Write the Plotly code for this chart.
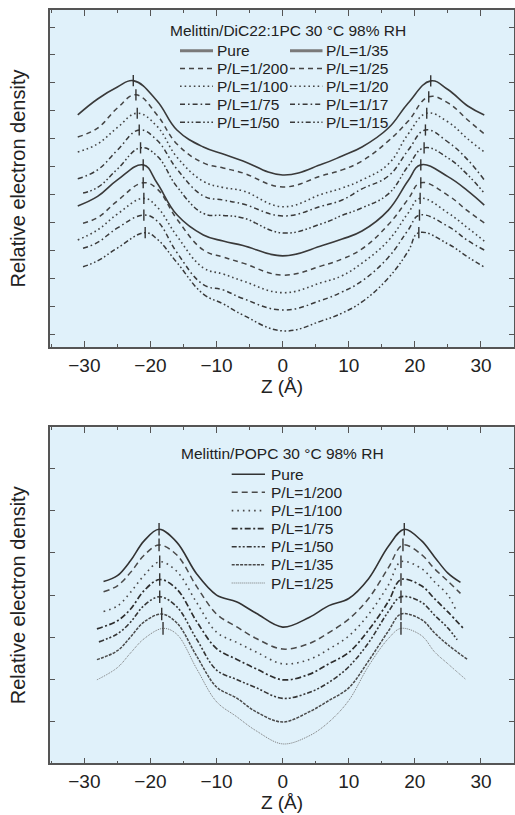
import numpy as np
import plotly.graph_objects as go

W, H = 515, 815
FONT = "Liberation Sans, Arial, Helvetica, sans-serif"
BG = "#e0f1fa"

# ---------------- Top panel: Melittin/DiC22:1PC ----------------
TOP_TITLE = "Melittin/DiC22:1PC 30 °C 98% RH"
TOP_LABELS = ["Pure", "P/L=1/200", "P/L=1/100", "P/L=1/75", "P/L=1/50",
              "P/L=1/35", "P/L=1/25", "P/L=1/20", "P/L=1/17", "P/L=1/15"]
TOP_Z = [
    [-31, -28, -25, -22.6, -19, -16, -12, -9, -6, 0, 6, 9, 12, 16, 19, 22.4, 25, 28, 30.5],
    [-31, -28, -25, -22.2, -19, -16, -12, -9, -6, 0, 6, 9, 12, 16, 19, 22.1, 25, 28, 30.5],
    [-31, -28, -25, -22.0, -19, -16, -12, -9, -6, 0, 6, 9, 12, 16, 19, 21.8, 25, 28, 30.5],
    [-31, -28, -25, -21.7, -19, -16, -12, -9, -6, 0, 6, 9, 12, 16, 19, 21.6, 25, 28, 30.5],
    [-30.2, -28, -25, -21.5, -19, -16, -12, -9, -6, 0, 6, 9, 12, 16, 19, 21.4, 25, 28, 30.5],
    [-31, -28, -25, -21.1, -19, -16, -12, -9, -6, 0, 6, 9, 12, 16, 19, 20.9, 25, 28, 30.5],
    [-30.2, -28, -25, -21.1, -19, -16, -12, -9, -6, 0, 6, 9, 12, 16, 19, 20.9, 25, 28, 30.5],
    [-31, -28, -25, -21.0, -19, -16, -12, -9, -6, 0, 6, 9, 12, 16, 19, 20.8, 25, 28, 30.5],
    [-30.2, -28, -25, -21.0, -19, -16, -12, -9, -6, 0, 6, 9, 12, 16, 19, 20.7, 25, 28, 30.5],
    [-30.2, -28, -25, -20.8, -19, -16, -12, -9, -6, 0, 6, 9, 12, 16, 19, 20.6, 25, 28, 30.5],
]
TOP_RHO = [
    [7.85, 8.42, 8.85, 9.08, 8.35, 7.31, 6.70, 6.45, 6.20, 5.70, 6.09, 6.38, 6.70, 7.38, 8.28, 9.07, 8.76, 8.17, 7.85],
    [7.06, 7.38, 8.10, 8.57, 7.85, 6.81, 6.13, 5.95, 5.77, 5.27, 5.68, 5.88, 6.20, 6.92, 7.63, 8.50, 8.28, 7.67, 7.17],
    [6.52, 6.81, 7.40, 7.91, 7.44, 6.34, 5.47, 5.25, 5.13, 4.56, 5.02, 5.23, 5.52, 6.09, 7.17, 7.91, 7.60, 6.99, 6.52],
    [5.56, 5.88, 6.59, 7.31, 6.94, 5.91, 4.95, 4.80, 4.66, 4.23, 4.59, 4.80, 5.20, 5.66, 6.59, 7.31, 6.88, 6.24, 5.52],
    [5.05, 5.25, 5.91, 6.67, 6.38, 5.28, 4.32, 4.25, 4.16, 3.62, 3.96, 4.25, 4.52, 5.02, 6.02, 6.67, 6.31, 5.70, 5.05],
    [4.59, 4.93, 5.52, 6.06, 5.41, 4.27, 3.55, 3.33, 3.17, 2.80, 3.17, 3.40, 3.69, 4.44, 5.50, 6.06, 5.64, 5.13, 4.62],
    [3.97, 4.17, 4.77, 5.42, 5.20, 4.12, 3.01, 2.76, 2.54, 2.11, 2.45, 2.69, 3.05, 3.92, 4.84, 5.42, 4.97, 4.41, 3.98],
    [3.37, 3.73, 4.30, 4.86, 4.55, 3.51, 2.37, 2.15, 1.90, 1.48, 1.85, 2.09, 2.54, 3.35, 4.34, 4.86, 4.34, 3.80, 3.33],
    [3.07, 3.28, 3.80, 4.26, 4.05, 2.92, 1.77, 1.58, 1.27, 0.86, 1.22, 1.51, 1.90, 2.75, 3.73, 4.26, 3.86, 3.35, 3.01],
    [2.41, 2.62, 3.08, 3.63, 3.40, 2.56, 1.43, 1.08, 0.68, 0.11, 0.48, 0.75, 1.15, 2.01, 2.97, 3.63, 3.23, 2.76, 2.40],
]

# ---------------- Bottom panel: Melittin/POPC ----------------
BOT_TITLE = "Melittin/POPC 30 °C 98% RH"
BOT_LABELS = ["Pure", "P/L=1/200", "P/L=1/100", "P/L=1/75", "P/L=1/50",
              "P/L=1/35", "P/L=1/25"]
BOT_Z = [
    [-27.1, -25, -23, -21, -18.7, -16, -13, -10, -7, -4, 0, 4, 7, 10, 13, 16, 18.4, 21, 23, 25, 26.9],
    [-27.1, -25, -23, -21, -18.7, -16, -13, -10, -7, -4, 0, 4, 7, 10, 13, 16, 18.2, 21, 23, 25, 26.9],
    [-27.1, -25, -23, -21, -18.6, -16, -13, -10, -7, -4, 0, 4, 7, 10, 13, 16, 17.9, 21, 23, 25, 26.2],
    [-28.1, -25, -23, -21, -18.6, -16, -13, -10, -7, -4, 0, 4, 7, 10, 13, 16, 17.9, 21, 23, 25, 27.4],
    [-27.8, -25, -23, -21, -18.6, -16, -13, -10, -7, -4, 0, 4, 7, 10, 13, 16, 17.9, 21, 23, 25, 26.4],
    [-28.1, -25, -23, -21, -18.3, -16, -13, -10, -7, -4, 0, 4, 7, 10, 13, 16, 17.9, 21, 23, 25, 27.9],
    [-28.1, -25, -23, -21, -18.1, -16, -13, -10, -7, -4, 0, 4, 7, 10, 13, 16, 17.9, 21, 23, 25, 27.7],
]
BOT_RHO = [
    [3.32, 3.46, 3.82, 4.28, 4.56, 4.25, 3.50, 3.00, 2.84, 2.57, 2.24, 2.47, 2.75, 2.92, 3.39, 4.16, 4.56, 4.29, 3.90, 3.52, 3.30],
    [3.08, 3.22, 3.54, 3.94, 4.19, 3.95, 3.20, 2.55, 2.25, 1.97, 1.72, 1.85, 2.11, 2.43, 2.92, 3.65, 4.19, 3.96, 3.62, 3.33, 3.04],
    [2.61, 2.74, 3.07, 3.46, 3.79, 3.56, 2.82, 2.12, 1.88, 1.65, 1.37, 1.47, 1.72, 2.03, 2.54, 3.24, 3.79, 3.63, 3.31, 3.00, 2.65],
    [2.20, 2.39, 2.67, 3.10, 3.37, 3.14, 2.37, 1.73, 1.48, 1.25, 0.99, 1.12, 1.37, 1.64, 2.17, 2.85, 3.37, 3.22, 2.91, 2.60, 2.20],
    [1.89, 2.08, 2.36, 2.75, 2.96, 2.72, 1.95, 1.22, 1.00, 0.80, 0.55, 0.69, 0.93, 1.30, 1.87, 2.61, 2.96, 2.83, 2.52, 2.22, 1.94],
    [1.47, 1.68, 2.01, 2.36, 2.55, 2.34, 1.55, 0.82, 0.56, 0.23, -0.01, 0.23, 0.50, 0.80, 1.44, 2.15, 2.55, 2.42, 2.10, 1.82, 1.48],
    [0.99, 1.28, 1.63, 1.96, 2.21, 2.07, 1.25, 0.47, 0.12, -0.22, -0.53, -0.34, -0.01, 0.50, 1.32, 1.97, 2.21, 2.04, 1.65, 1.37, 1.00],
]

X_TICKS = [-30, -20, -10, 0, 10, 20, 30]
X_TICKTEXT = ["\u221230", "\u221220", "\u221210", "0", "10", "20", "30"]

# ---------------- styles ----------------
DASH_DASH = "5px,4px"
DASH_DOT = "1.6px,3px"
DASH_DASHDOT = "5px,3px,1.6px,3px"
DASH_DDOT = "5px,2.5px,1.6px,2.5px,1.6px,2.5px"
TOP_STYLE = [
    ("solid", 1.6, "#3a3a3a"), (DASH_DASH, 1.5, "#454545"), (DASH_DOT, 1.6, "#454545"),
    (DASH_DASHDOT, 1.5, "#3a3a3a"), (DASH_DDOT, 1.5, "#3a3a3a"),
    ("solid", 1.6, "#3a3a3a"), (DASH_DASH, 1.5, "#454545"), (DASH_DOT, 1.6, "#454545"),
    (DASH_DASHDOT, 1.5, "#3a3a3a"), (DASH_DDOT, 1.5, "#3a3a3a"),
]
BOT_STYLE = [
    ("solid", 1.6, "#333333"), ("6px,4px", 1.5, "#4a4a4a"), ("1.6px,4px", 1.6, "#4a4a4a"),
    ("6px,2.5px,2px,2.5px", 1.7, "#2e2e2e"), ("5px,2px,2px,2px,2px,2px", 1.6, "#363636"),
    ("3px,1.2px", 1.5, "#4a4a4a"), ("1px,1px", 1.0, "#777777"),
]

fig = go.Figure()


def add_panel(zs, rhos, labels, styles, xa, ya, msize, smooth):
    pz, pr = [], []
    for z, r, lab, (dash, w, c) in zip(zs, rhos, labels, styles):
        fig.add_trace(go.Scatter(
            x=z, y=r, mode="lines", name=lab, showlegend=False,
            line=dict(color=c, width=w, dash=dash, shape="spline", smoothing=smooth),
            xaxis=xa, yaxis=ya, hoverinfo="skip"))
        za, ra = np.array(z), np.array(r)
        for mask in (za < 0, za > 0):
            i = np.argmax(np.where(mask, ra, -1e9))
            pz.append(za[i]); pr.append(ra[i])
    fig.add_trace(go.Scatter(
        x=pz, y=pr, mode="markers", showlegend=False, hoverinfo="skip",
        marker=dict(symbol="line-ns", size=msize, line=dict(width=1.4, color="#333")),
        xaxis=xa, yaxis=ya))


add_panel(TOP_Z, TOP_RHO, TOP_LABELS, TOP_STYLE, "x", "y", 8, 1.2)
add_panel(BOT_Z, BOT_RHO, BOT_LABELS, BOT_STYLE, "x2", "y2", 9, 1.0)

# ---------------- axes ----------------
XDOM = [50 / W, 514 / W]


def ydom(top_px, bot_px):
    return [1 - bot_px / H, 1 - top_px / H]


common_x = dict(
    domain=XDOM, range=[-35.2, 35.0], tickmode="array", tickvals=X_TICKS, ticktext=X_TICKTEXT,
    ticks="inside", ticklen=6, tickwidth=1.3, tickcolor="#555", showline=True, linecolor="#555",
    linewidth=1.6, mirror="ticks", showgrid=False, zeroline=False,
    minor=dict(dtick=5, tick0=0, ticks="inside", ticklen=3, tickwidth=1.2, tickcolor="#555", showgrid=False),
    tickfont=dict(size=19, color="#222", family=FONT),
    title=dict(text="Z (Å)", font=dict(size=19, color="#222", family=FONT), standoff=3),
)
common_y = dict(
    ticks="inside", ticklen=5, tickwidth=1.3, tickcolor="#555", showline=True, linecolor="#555",
    linewidth=1.6, mirror="ticks", showgrid=False, zeroline=False, showticklabels=False,
    title=dict(text="Relative electron density", font=dict(size=20, color="#222", family=FONT), standoff=17),
)

fig.update_layout(
    width=W, height=H, margin=dict(l=0, r=0, t=0, b=0),
    paper_bgcolor="white", plot_bgcolor=BG, showlegend=False,
    font=dict(family=FONT, color="#222"),
    xaxis=dict(anchor="y", **common_x),
    yaxis=dict(anchor="x", domain=ydom(10, 347), range=[-0.466, 11.61], dtick=1, tick0=0, **common_y),
    xaxis2=dict(anchor="y2", **common_x),
    yaxis2=dict(anchor="x2", domain=ydom(427.3, 763.3), range=[-0.99, 6.98], dtick=1, tick0=0, **common_y),
)

# ---------------- hand-drawn legends ----------------
shapes, annos = [], []


def px(x):
    return x / W


def py(y):
    return 1 - y / H


def legend_item(x0, x1, xt, yrow, label, dash, width, color):
    shapes.append(dict(type="line", xref="paper", yref="paper", x0=px(x0), x1=px(x1),
                       y0=py(yrow), y1=py(yrow), line=dict(color=color, width=width, dash=dash)))
    annos.append(dict(text=label, xref="paper", yref="paper", x=px(xt), y=py(yrow),
                      xanchor="left", yanchor="middle", showarrow=False,
                      font=dict(size=15.5, color="#222", family=FONT)))


annos.append(dict(text=TOP_TITLE, xref="paper", yref="paper", x=px(287.5), y=py(30),
                  xanchor="center", yanchor="middle", showarrow=False,
                  font=dict(size=15.5, color="#222", family=FONT)))
TOP_ROWS = [50.7, 68.5, 86.3, 104.3, 122.3]
for k, (lab, (dash, w, c)) in enumerate(zip(TOP_LABELS, TOP_STYLE)):
    col, row = divmod(k, 5)
    if dash == "solid":
        w, c = 3.0, "#7a7a7a"
    if col == 0:
        legend_item(180, 213, 214.5, TOP_ROWS[row], lab, dash, w, c)
    else:
        legend_item(290, 322.5, 323.5, TOP_ROWS[row], lab, dash, w, c)

annos.append(dict(text=BOT_TITLE, xref="paper", yref="paper", x=px(282.5), y=py(453.3),
                  xanchor="center", yanchor="middle", showarrow=False,
                  font=dict(size=15.5, color="#222", family=FONT)))
BOT_ROWS = [474.3, 492.3, 510.6, 528.6, 546.7, 564.8, 583.0]
for k, (lab, (dash, w, c)) in enumerate(zip(BOT_LABELS, BOT_STYLE)):
    legend_item(231.7, 265, 268.5, BOT_ROWS[k], lab, dash, w, c)

fig.update_layout(shapes=shapes, annotations=annos)
fig.write_html("out.html")
